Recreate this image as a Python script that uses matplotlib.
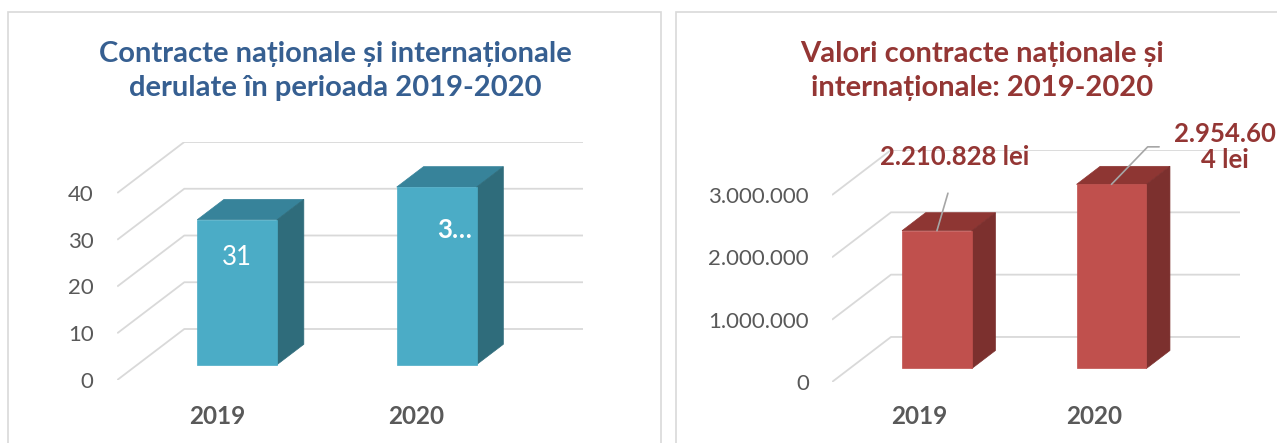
import numpy as np
import matplotlib.pyplot as plt
from matplotlib.patches import Polygon, Rectangle

# data
years = ['2019', '2020']
contract_counts = [31, 38]
count_labels = ['31', '3…']
count_ticks = [0, 10, 20, 30, 40]

contract_values = [2210828, 2954604]
value_labels = ['2.210.828 lei', '2.954.60\n4 lei']
value_ticks = [0, 1000000, 2000000, 3000000]
value_tick_labels = ['0', '1.000.000', '2.000.000', '3.000.000']

W, H = 1277, 443
plt.rcParams['font.family'] = ['Lato', 'DejaVu Sans']
GRID = '#D9D9D9'
TXT = '#595959'

fig = plt.figure(figsize=(W / 100, H / 100), dpi=100)


def px_axes(x0, x1, top, bottom):
    return fig.add_axes([x0 / W, 1 - bottom / H, (x1 - x0) / W, (bottom - top) / H])


def panel_box(x0, x1, top):
    fig.patches.append(Rectangle((x0 / W, -0.1), (x1 - x0) / W, 1.1 - top / H,
                                 transform=fig.transFigure, fill=False,
                                 edgecolor=GRID, lw=1.2))


def bars3d(ax, values, ticks, dx, dy, front, top, side, d0=0.3, d1=0.7, width=0.4):
    x = np.arange(len(values))
    for v in ticks:
        ax.plot([-0.5, -0.5 + dx, 1.5 + dx], [v, v + dy, v + dy],
                color=GRID, lw=1.3, zorder=1, solid_capstyle='butt')
    ax.bar(x + d0 * dx, values, width=width, bottom=d0 * dy, color=front,
           edgecolor=front, lw=0.5, zorder=4)
    dd = (d1 - d0)
    for xi, v in zip(x, values):
        xl = xi - width / 2 + d0 * dx
        xr = xl + width
        yb = d0 * dy
        yt = v + d0 * dy
        ax.add_patch(Polygon([(xl, yt), (xr, yt), (xr + dd * dx, yt + dd * dy),
                              (xl + dd * dx, yt + dd * dy)],
                             closed=True, fc=top, ec=top, lw=0.5, zorder=3))
        ax.add_patch(Polygon([(xr, yb), (xr, yt), (xr + dd * dx, yt + dd * dy),
                              (xr + dd * dx, yb + dd * dy)],
                             closed=True, fc=side, ec=side, lw=0.5, zorder=3))
    ax.set_xlim(-0.5, 1.5 + dx)
    ax.set_ylim(0, ticks[-1] + dy)
    for s in ax.spines.values():
        s.set_visible(False)
    ax.set_facecolor('none')
    return x + d0 * dx, [v + d0 * dy for v in values]


# ---- left panel
panel_box(8, 661, 12)
fig.text(335 / W, 1 - 71 / H,
         'Contracte naționale și internaționale\nderulate în perioada 2019-2020',
         ha='center', va='center', fontsize=21, fontweight='bold',
         color='#365F91', linespacing=1.38)

ax1 = px_axes(117.25, 583.3, 142, 380)
dy1 = 51 / 4.675
cx, tops = bars3d(ax1, contract_counts, count_ticks, 0.336, dy1,
                  '#4BACC6', '#37839A', '#2F6C7B')
ax1.set_yticks(count_ticks, [str(t) for t in count_ticks])
ax1.set_xticks(range(len(years)), years)
ax1.tick_params(axis='y', length=0, pad=17, labelsize=16, labelcolor=TXT)
ax1.tick_params(axis='x', length=0, pad=18, labelsize=17.5, labelcolor=TXT)
for lab in ax1.get_xticklabels():
    lab.set_fontweight('bold')
ax1.annotate(count_labels[0], (cx[0], tops[0]), xytext=(0, -27),
             textcoords='offset points', ha='center', va='center',
             fontsize=18.5, color='white', zorder=6)
ax1.annotate(count_labels[1], (cx[1], tops[1]), xytext=(13, -31),
             textcoords='offset points', ha='center', va='center',
             fontsize=18.5, fontweight='bold', color='white', zorder=6)

# ---- right panel
panel_box(676, 1290, 12)
fig.text(982 / W, 1 - 71 / H,
         'Valori contracte naționale și\ninternaționale: 2019-2020',
         ha='center', va='center', fontsize=21, fontweight='bold',
         color='#943634', linespacing=1.38)

ax2 = px_axes(832, 1240, 150, 382)
dy2 = 45 / 62.3 * 1e6
cx, tops = bars3d(ax2, contract_values, value_ticks, 0.338, dy2,
                  '#C0504D', '#8E3633', '#7C302E')
ax2.set_yticks(value_ticks, value_tick_labels)
ax2.set_xticks(range(len(years)), years)
ax2.tick_params(axis='y', length=0, pad=16.5, labelsize=16, labelcolor=TXT)
ax2.tick_params(axis='x', length=0, pad=16.5, labelsize=17.5, labelcolor=TXT)
for lab in ax2.get_xticklabels():
    lab.set_fontweight('bold')

ax2.annotate(value_labels[0], (cx[0], tops[0]), xytext=(13, 53),
             textcoords='offset points', ha='center', va='center',
             fontsize=18.5, fontweight='bold', color='#943634', zorder=6,
             annotation_clip=False,
             arrowprops=dict(arrowstyle='-', color='#A6A6A6', lw=1.2,
                             relpos=(0.5, 0), shrinkA=16, shrinkB=0))
ax2.annotate(value_labels[1], (cx[1], tops[1]), xytext=(82, 27),
             textcoords='offset points', ha='center', va='center',
             multialignment='center', linespacing=1.1,
             fontsize=18.5, fontweight='bold', color='#943634', zorder=6,
             annotation_clip=False,
             arrowprops=dict(arrowstyle='-', color='#A6A6A6', lw=1.2,
                             relpos=(0, 0.5), shrinkA=9, shrinkB=0,
                             connectionstyle='angle,angleA=0,angleB=46,rad=0'))

fig.savefig('out.png', dpi=100)
